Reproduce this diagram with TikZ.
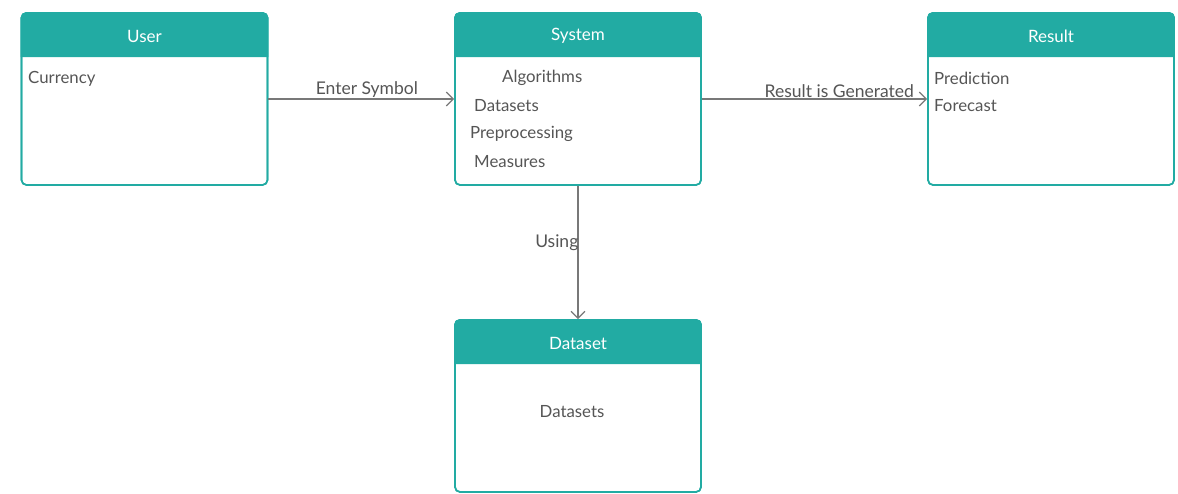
\documentclass[tikz,border=0pt]{standalone}
\usepackage{fontspec}
\setmainfont{Lato}
\usetikzlibrary{arrows.meta}
\definecolor{teal1}{RGB}{34,171,163}
\definecolor{ink}{RGB}{85,85,85}
\definecolor{wire}{RGB}{120,120,120}
\tikzset{
  box/.style={rectangle, draw=teal1, line width=1.6pt, rounded corners=5pt,
    minimum width=246pt, minimum height=172pt, inner sep=0pt},
  title/.style={text=white, font=\fontsize{17}{20}\selectfont},
  item/.style={text=ink, font=\fontsize{16.8}{20}\selectfont, anchor=west, inner sep=0pt},
  conn/.style={draw=wire, line width=1.3pt, -{Straight Barb[length=7pt,width=14pt,line width=1.3pt]}},
  lbl/.style={text=ink, font=\fontsize{17.5}{20}\selectfont, inner sep=1pt},
}
% a class box with a filled title band of 45pt
\newcommand\classbox[4]{%
  \node[box] (#1) at (#2,#3) {};
  \fill[teal1] ([yshift=-45pt]#1.north west) [rounded corners=5pt] -- (#1.north west) -- (#1.north east) [sharp corners] -- ([yshift=-45pt]#1.north east) -- cycle;
  \node[box, fill=none] at (#1.center) {};
  \node[title] (#1-title) at ([yshift=-24pt]#1.north) {#4};
}
\begin{document}
\begin{tikzpicture}[x=1pt, y=-1pt]
\useasboundingbox (0,0) rectangle (1178,494);
\classbox{user}{144.5}{99}{User}
\classbox{system}{578}{99}{System}
\classbox{result}{1051}{99}{Result}
\classbox{dataset}{578}{406}{Dataset}

\node[item] (u1) at (28,79) {Currency};

\node[item] (s1) at (502,78) {Algorithms};
\node[item] (s2) at (474,106) {Datasets};
\node[item] (s3) at (470,134) {Preprocessing};
\node[item] (s4) at (474,162) {Measures};

\node[item] (r1) at (934,78) {Prediction};
\node[item] (r2) at (934,106) {Forecast};

\node[item, anchor=center] (d1) at (572,412) {Datasets};

\draw[conn] (user.east) -- node[lbl, pos=0.53, above] {Enter Symbol} (system.west);
\draw[conn] (system.east) -- node[lbl, pos=0.61, above] {Result is Generated} (result.west);
\draw[conn] (system.south) -- node[lbl, pos=0.43, left, xshift=2pt] {Using} (dataset.north);
\end{tikzpicture}
\end{document}
